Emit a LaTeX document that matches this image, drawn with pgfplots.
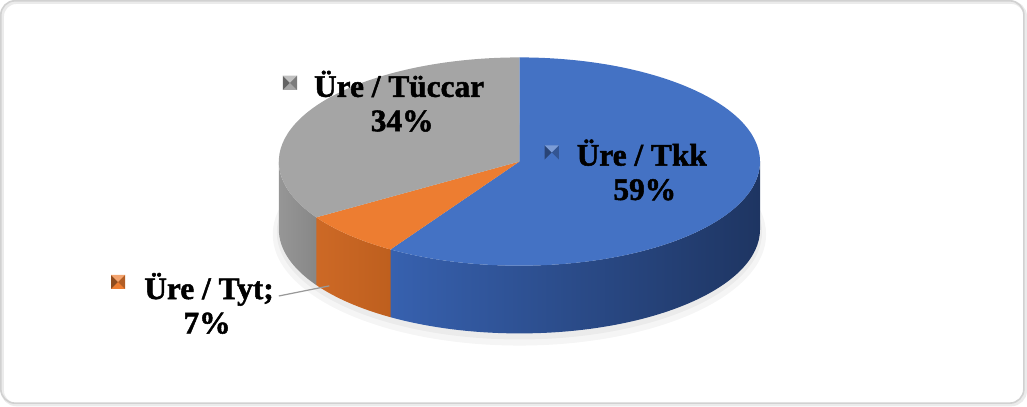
\documentclass[border=0pt]{standalone}
\usepackage{fontspec}
\setmainfont{Liberation Serif}[BoldFeatures={FakeBold=1.6}]
\usepackage{pgfplots}
\usepackage{pgfplotstable}
\pgfplotsset{compat=1.18}

\definecolor{cBlue}{RGB}{68,114,196}
\definecolor{cOrange}{RGB}{237,125,49}
\definecolor{cGray}{RGB}{165,165,165}
\definecolor{sBlueL}{RGB}{55,97,175}
\definecolor{sBlueR}{RGB}{30,53,98}
\definecolor{sOrangeL}{RGB}{205,105,38}
\definecolor{sOrangeR}{RGB}{190,95,30}
\definecolor{sGrayL}{RGB}{150,150,150}
\definecolor{sGrayR}{RGB}{135,135,135}

\pgfplotstableread{
name value
Tkk 59
Tyt 7
Tuccar 34
}\piedata

\newcommand{\lbl}[3]{%
  \node[anchor=base,text=black] at (axis cs:#1,#2) {#3};}
\newcommand{\key}[3]{%
  \fill[#3] (axis cs:#1,#2) ++(-3.5pt,-3.5pt) rectangle ++(7pt,7pt);
  \fill[#3!60!black] (axis cs:#1,#2) -- ++(-3.5pt,-3.5pt) -- ++(0pt,7pt) -- cycle;
  \fill[#3!75!black] (axis cs:#1,#2) -- ++(3.5pt,-3.5pt) -- ++(0pt,7pt) -- cycle;
  \fill[#3!70!white] (axis cs:#1,#2) -- ++(-3.5pt,3.5pt) -- ++(7pt,0pt) -- cycle;}

\begin{document}
\begin{tikzpicture}
\pgfplotstablegetelem{0}{value}\of\piedata \let\vA\pgfplotsretval
\pgfplotstablegetelem{1}{value}\of\piedata \let\vB\pgfplotsretval
\pgfplotstablegetelem{2}{value}\of\piedata \let\vC\pgfplotsretval
\pgfmathsetmacro{\aA}{90-3.6*\vA}
\pgfmathsetmacro{\aB}{\aA-3.6*\vB}
\pgfmathsetmacro{\aC}{\aB-3.6*\vC}
\begin{axis}[width=513.5pt,height=203pt,scale only axis,
  xmin=0,xmax=1027,ymin=0,ymax=406,axis lines=none,clip=false,
  font=\bfseries\fontsize{15.5}{18}\selectfont]
% frame
\draw[black!8,line width=1.6pt,rounded corners=7pt] (axis cs:9.5,3.5) rectangle (axis cs:1021.5,401.5);
\draw[black!18,line width=0.8pt,rounded corners=7pt] (axis cs:8,5) rectangle (axis cs:1020,403);
% soft shadow under pie
\fill[black,opacity=0.04] (axis cs:521,172) ellipse[x radius=122pt,y radius=55pt];
\fill[black,opacity=0.04] (axis cs:521,174) ellipse[x radius=120pt,y radius=53pt];
% sides
\shade[left color=sBlueL,right color=sBlueR]
  (axis cs:{521+238*cos(\aA)},{244+103*sin(\aA)}) arc[start angle=\aA,end angle=0,x radius=119pt,y radius=51.5pt]
  -- ++(0pt,-33.5pt) arc[start angle=0,end angle=\aA,x radius=119pt,y radius=51.5pt] -- cycle;
\shade[left color=sOrangeL,right color=sOrangeR]
  (axis cs:{521+238*cos(\aB)},{244+103*sin(\aB)}) arc[start angle=\aB,end angle=\aA,x radius=119pt,y radius=51.5pt]
  -- ++(0pt,-33.5pt) arc[start angle=\aA,end angle=\aB,x radius=119pt,y radius=51.5pt] -- cycle;
\shade[left color=sGrayL,right color=sGrayR]
  (axis cs:283,244) arc[start angle=-180,end angle=\aB,x radius=119pt,y radius=51.5pt]
  -- ++(0pt,-33.5pt) arc[start angle=\aB,end angle=-180,x radius=119pt,y radius=51.5pt] -- cycle;
% tops
\fill[cBlue] (axis cs:521,244) -- (axis cs:521,347) arc[start angle=90,end angle=\aA,x radius=119pt,y radius=51.5pt] -- cycle;
\fill[cOrange] (axis cs:521,244) -- (axis cs:{521+238*cos(\aA)},{244+103*sin(\aA)}) arc[start angle=\aA,end angle=\aB,x radius=119pt,y radius=51.5pt] -- cycle;
\fill[cGray] (axis cs:521,244) -- (axis cs:{521+238*cos(\aB)},{244+103*sin(\aB)}) arc[start angle=\aB,end angle=\aC,x radius=119pt,y radius=51.5pt] -- cycle;
% leader line
\draw[black!40,line width=0.6pt] (axis cs:283,111) -- (axis cs:333,121);
% keys
\key{294}{322}{cGray}
\key{553}{253}{cBlue}
\key{124}{125}{cOrange}
% labels
\lbl{402}{308}{Üre / Tüccar}
\lbl{405}{274}{34\%}
\lbl{642}{240}{Üre / Tkk}
\lbl{645}{206}{59\%}
\lbl{214}{108}{Üre / Tyt;}
\lbl{212}{74}{7\%}
\end{axis}
\end{tikzpicture}
\end{document}
